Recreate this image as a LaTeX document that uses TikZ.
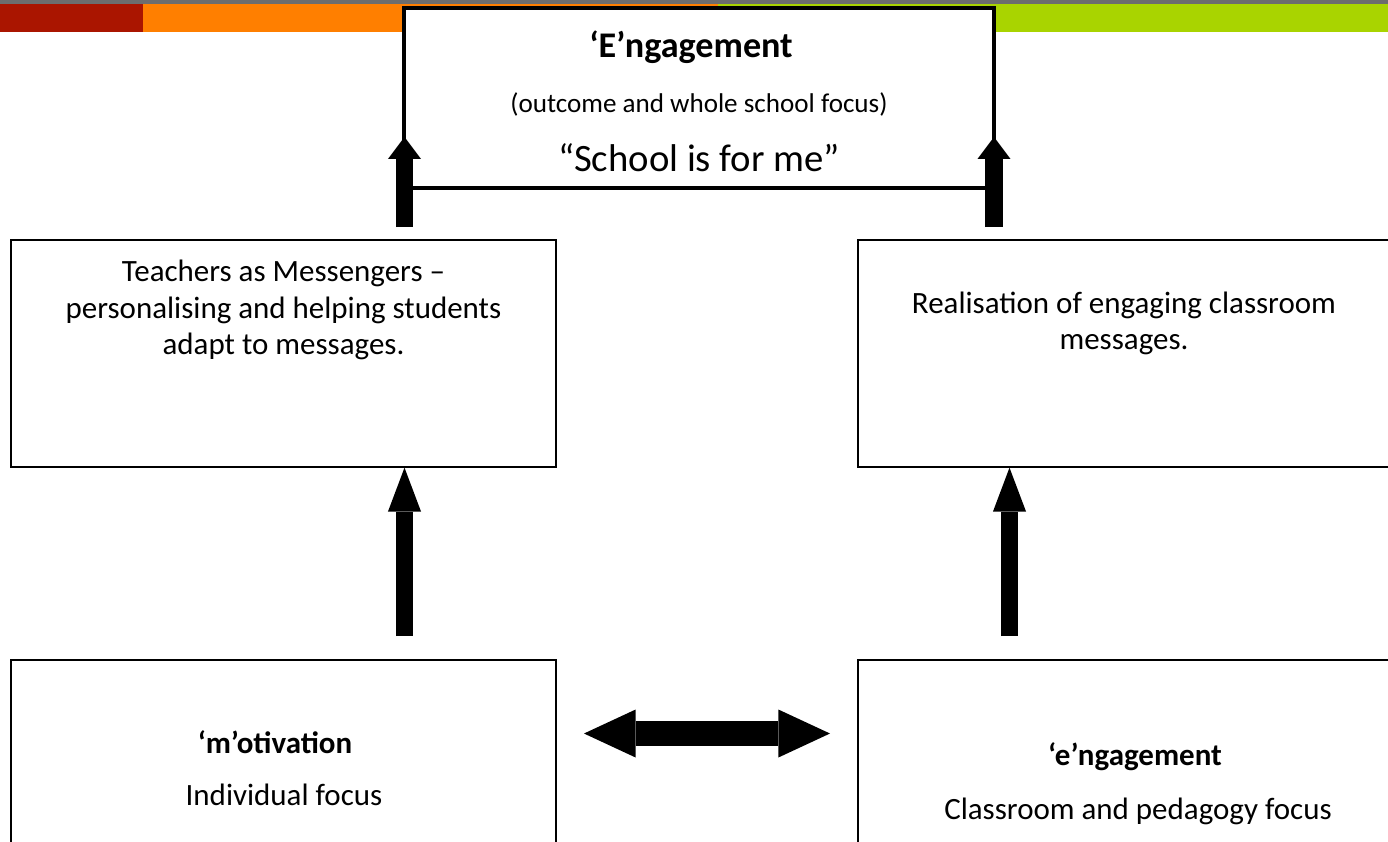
\documentclass[tikz,border=0pt]{standalone}
\usepackage{fontspec}
\setmainfont{Carlito}
\usetikzlibrary{arrows.meta}

\definecolor{bargray}{HTML}{6D6D6D}
\definecolor{barred}{HTML}{AA1500}
\definecolor{barorange}{HTML}{FF7F00}
\definecolor{bargreen}{HTML}{A9D400}

% one pixel of the page
\newcommand\px{0.3875pt}

\tikzset{
  msgbox/.style={draw, fill=white, line width=0.5pt, inner sep=0pt},
  topbox/.style={draw, fill=white, line width=1.35pt, inner sep=0pt},
  bodytext/.style={align=center, inner sep=0pt, font=\fontsize{12}{14}\selectfont},
  headtext/.style={inner sep=0pt, font=\fontsize{12}{14}\selectfont\bfseries},
  shortup/.style={line width=6.6pt, -{Triangle[length=8.5pt, width=12.8pt, line width=0pt]}},
  longup/.style={line width=6.6pt, -{Triangle[length=17pt, width=12.8pt, line width=0pt]}},
  bothways/.style={line width=9.7pt, {Triangle[length=20pt, width=18.6pt, line width=0pt]}-{Triangle[length=20pt, width=18.6pt, line width=0pt]}}
}

\begin{document}
\begin{tikzpicture}[x=\px, y=-\px]
            \useasboundingbox (0,0) rectangle (1388,841);
            \clip (0,0) rectangle (1388,841);

            % bar at the top
            \fill[bargray] (0,0) rectangle (1388,4);
            \fill[barred] (0,4) rectangle (143,32);
            \fill[barorange] (143,4) rectangle (718,32);
            \fill[bargreen] (718,4) rectangle (1388,32);

            % boxes
            \node[topbox, minimum width=590*\px, minimum height=180*\px] (outcome) at (699,98) {};
            \node[msgbox, minimum width=545*\px, minimum height=227*\px] (teach) at (283.5,353.5) {};
            \node[msgbox, minimum width=545*\px, minimum height=227*\px] (real) at (1130.5,353.5) {};
            \node[msgbox, minimum width=545*\px, minimum height=220*\px] (motiv) at (283.5,770) {};
            \node[msgbox, minimum width=545*\px, minimum height=220*\px] (engag) at (1130.5,770) {};

            % texts
            \node[headtext, font=\fontsize{14}{16}\selectfont\bfseries] (outcometitle) at (691,47) {‘E’ngagement};
            \node[bodytext, font=\fontsize{10.5}{12}\selectfont] (outcomesub) at (699,104) {(outcome and whole school focus)};
            \node[bodytext, font=\fontsize{15}{18}\selectfont] (outcomequote) at (699,158) {“School is for me”};
            \node[bodytext] (teachtext) at (283.5,310) {Teachers as Messengers –\\personalising and helping students\\adapt to messages.};
            \node[bodytext] (realtext) at (1124,323) {Realisation of engaging classroom\\messages.};
            \node[headtext] (motivtitle) at (275,742) {‘m’otivation};
            \node[bodytext] (motivsub) at (284,795) {Individual focus};
            \node[headtext] (engagtitle) at (1135,757) {‘e’ngagement};
            \node[bodytext] (engagsub) at (1138,811) {Classroom and pedagogy focus};

            % arrows
            \coordinate (lefttop) at (404.5,227);
            \coordinate (lefttip) at (404.5,137);
            \coordinate (righttop) at (994,227);
            \coordinate (righttip) at (994,137);
            \coordinate (leftlow) at (404.5,636);
            \coordinate (rightlow) at (1009.5,636);
            \coordinate (bothleft) at (584,733.5);
            \coordinate (bothright) at (830,733.5);

            \draw[shortup] (lefttop) -- (lefttip);
            \draw[shortup] (righttop) -- (righttip);
            \draw[longup] (leftlow) -- (leftlow |- teach.south);
            \draw[longup] (rightlow) -- (rightlow |- real.south);
            \draw[bothways] (bothleft) -- (bothright);
        \end{tikzpicture}
\end{document}
